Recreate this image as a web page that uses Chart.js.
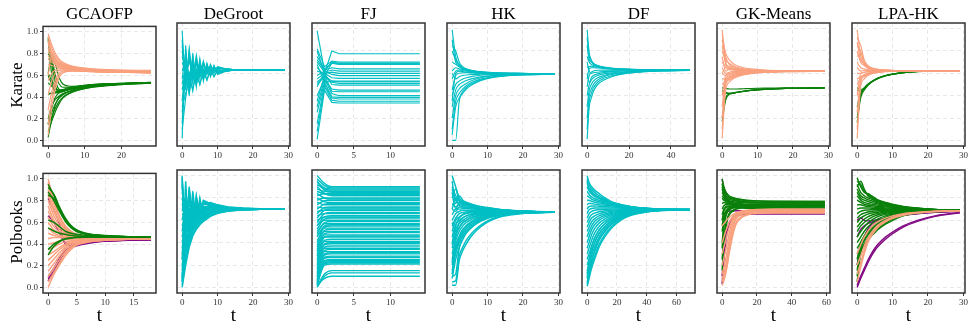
<!DOCTYPE html>
<html>
<head>
<meta charset="utf-8">
<script src="https://cdn.jsdelivr.net/npm/chart.js@4.4.0/dist/chart.umd.min.js"></script>
<style>
  body { margin: 0; background: #fff; }
  #fig { position: relative; width: 968px; height: 329px; overflow: hidden;
         font-family: 'Liberation Serif', 'Times New Roman', serif; }
  .lab { position: absolute; color: #000; white-space: nowrap; line-height: 1; }
  canvas { position: absolute; }
</style>
</head>
<body>
<div id="fig"></div>
<script>
// ---- labels and ticks ----
const methodNames = ['GCAOFP', 'DeGroot', 'FJ', 'HK', 'DF', 'GK-Means', 'LPA-HK'];
const networkNames = ['Karate', 'Polbooks'];
const yTicks = [0, 0.2, 0.4, 0.6, 0.8, 1.0];

// ---- Karate: opinion trajectories (values at the listed time steps) ----
const tKarGcaofp = [0, 1, 2, 3, 4, 6, 8, 12, 18, 28];
const karGcaofpSalmon = [
  [0.98,0.88,0.80,0.75,0.72,0.69,0.675,0.66,0.65,0.645],
  [0.95,0.85,0.78,0.74,0.71,0.685,0.67,0.655,0.645,0.64],
  [0.92,0.82,0.76,0.72,0.70,0.68,0.665,0.65,0.64,0.635],
  [0.88,0.80,0.74,0.71,0.69,0.675,0.66,0.648,0.64,0.635],
  [0.85,0.78,0.73,0.70,0.685,0.67,0.655,0.645,0.636,0.63],
  [0.82,0.76,0.72,0.70,0.68,0.665,0.652,0.64,0.633,0.628],
  [0.78,0.74,0.71,0.69,0.675,0.66,0.65,0.64,0.632,0.627],
  [0.75,0.72,0.70,0.685,0.67,0.658,0.648,0.638,0.63,0.625],
  [0.70,0.69,0.68,0.67,0.66,0.652,0.645,0.636,0.63,0.625],
  [0.55,0.62,0.65,0.66,0.66,0.65,0.645,0.637,0.63,0.626],
  [0.42,0.55,0.62,0.645,0.65,0.648,0.643,0.636,0.63,0.625],
  [0.28,0.45,0.56,0.62,0.64,0.645,0.642,0.635,0.63,0.624],
  [0.15,0.38,0.52,0.60,0.63,0.64,0.64,0.634,0.628,0.623],
  [0.05,0.30,0.48,0.58,0.62,0.638,0.638,0.633,0.628,0.622],
  [0.90,0.80,0.75,0.72,0.70,0.682,0.668,0.655,0.645,0.64],
  [0.60,0.78,0.70,0.68,0.675,0.665,0.655,0.645,0.637,0.632]
];
const karGcaofpGreen = [
  [0.95,0.70,0.50,0.46,0.47,0.49,0.50,0.515,0.525,0.535],
  [0.93,0.60,0.45,0.45,0.46,0.48,0.495,0.51,0.52,0.532],
  [0.80,0.75,0.60,0.52,0.49,0.49,0.50,0.515,0.525,0.535],
  [0.62,0.55,0.48,0.46,0.465,0.48,0.495,0.51,0.522,0.533],
  [0.60,0.52,0.44,0.44,0.455,0.475,0.49,0.507,0.52,0.532],
  [0.53,0.50,0.47,0.46,0.465,0.48,0.495,0.51,0.522,0.533],
  [0.44,0.43,0.44,0.45,0.46,0.475,0.49,0.507,0.52,0.532],
  [0.42,0.44,0.44,0.445,0.455,0.47,0.487,0.505,0.518,0.531],
  [0.20,0.32,0.38,0.41,0.43,0.455,0.475,0.497,0.515,0.53],
  [0.16,0.26,0.34,0.39,0.42,0.45,0.47,0.495,0.513,0.53],
  [0.15,0.22,0.30,0.36,0.40,0.44,0.465,0.492,0.512,0.529],
  [0.08,0.18,0.27,0.34,0.39,0.435,0.46,0.49,0.51,0.528],
  [0.03,0.20,0.33,0.40,0.43,0.455,0.475,0.498,0.515,0.53],
  [0.15,0.30,0.40,0.44,0.45,0.47,0.485,0.503,0.518,0.531],
  [0.62,0.78,0.70,0.58,0.52,0.50,0.50,0.513,0.524,0.534],
  [0.75,0.72,0.55,0.47,0.46,0.475,0.49,0.507,0.52,0.532]
];

const tKarDeGroot = [0, 1, 2, 3, 4, 5, 6, 7, 8, 9, 10, 12, 14, 17, 20, 29];
const karDeGroot = [
  [0.98,0.45,0.80,0.52,0.74,0.56,0.70,0.59,0.67,0.60,0.655,0.64,0.635,0.632,0.631,0.63],
  [0.02,0.85,0.40,0.78,0.48,0.73,0.53,0.69,0.57,0.67,0.59,0.615,0.625,0.628,0.63,0.63],
  [0.15,0.80,0.45,0.75,0.50,0.71,0.55,0.68,0.58,0.665,0.60,0.62,0.627,0.629,0.63,0.63],
  [0.85,0.50,0.77,0.55,0.72,0.58,0.69,0.60,0.665,0.61,0.65,0.64,0.634,0.632,0.631,0.63],
  [0.80,0.55,0.75,0.57,0.70,0.59,0.68,0.605,0.66,0.612,0.648,0.638,0.634,0.631,0.63,0.63],
  [0.70,0.60,0.70,0.60,0.68,0.60,0.67,0.61,0.655,0.615,0.645,0.637,0.633,0.631,0.63,0.63],
  [0.62,0.72,0.58,0.70,0.60,0.68,0.61,0.665,0.615,0.655,0.62,0.625,0.628,0.63,0.63,0.63],
  [0.55,0.78,0.52,0.73,0.56,0.70,0.58,0.68,0.60,0.66,0.61,0.622,0.627,0.629,0.63,0.63],
  [0.45,0.62,0.50,0.66,0.55,0.66,0.58,0.655,0.60,0.65,0.61,0.623,0.628,0.63,0.63,0.63],
  [0.35,0.70,0.48,0.68,0.53,0.67,0.57,0.66,0.595,0.655,0.605,0.62,0.627,0.629,0.63,0.63],
  [0.25,0.58,0.42,0.62,0.50,0.63,0.55,0.64,0.58,0.64,0.60,0.618,0.626,0.629,0.63,0.63],
  [0.90,0.48,0.82,0.53,0.76,0.57,0.71,0.595,0.68,0.605,0.66,0.642,0.635,0.632,0.631,0.63],
  [0.75,0.65,0.72,0.62,0.70,0.62,0.68,0.62,0.665,0.62,0.65,0.638,0.633,0.631,0.63,0.63],
  [0.50,0.68,0.55,0.68,0.57,0.67,0.59,0.66,0.60,0.655,0.61,0.622,0.627,0.63,0.63,0.63],
  [0.30,0.42,0.55,0.46,0.60,0.50,0.62,0.54,0.63,0.57,0.625,0.624,0.627,0.629,0.63,0.63],
  [0.10,0.38,0.60,0.44,0.64,0.50,0.64,0.54,0.64,0.57,0.635,0.625,0.628,0.63,0.63,0.63]
];

const tKarFJ = [0, 1, 2, 3, 14];
const karFJ = [
  [0.98,0.62,0.70,0.69,0.69],
  [0.80,0.60,0.80,0.775,0.775],
  [0.82,0.66,0.71,0.70,0.70],
  [0.75,0.64,0.69,0.68,0.68],
  [0.72,0.63,0.65,0.64,0.64],
  [0.70,0.61,0.63,0.62,0.62],
  [0.62,0.60,0.61,0.60,0.60],
  [0.58,0.62,0.59,0.58,0.58],
  [0.55,0.60,0.56,0.555,0.555],
  [0.52,0.58,0.53,0.525,0.525],
  [0.50,0.57,0.52,0.51,0.51],
  [0.48,0.60,0.50,0.495,0.495],
  [0.40,0.55,0.46,0.45,0.45],
  [0.35,0.58,0.44,0.435,0.435],
  [0.25,0.52,0.39,0.385,0.385],
  [0.15,0.50,0.38,0.37,0.37],
  [0.08,0.48,0.36,0.35,0.35],
  [0.01,0.45,0.34,0.335,0.335],
  [0.30,0.55,0.42,0.40,0.40],
  [0.68,0.52,0.53,0.53,0.53],
  [0.65,0.58,0.69,0.685,0.685]
];

const tKarHK = [0, 1, 2, 3, 4, 6, 8, 12, 18, 29];
const karHK = [
  [0.99,0.75,0.68,0.65,0.635,0.62,0.61,0.603,0.60,0.595],
  [0.85,0.80,0.70,0.66,0.64,0.625,0.615,0.605,0.60,0.595],
  [0.80,0.72,0.67,0.645,0.635,0.62,0.612,0.604,0.60,0.595],
  [0.70,0.68,0.66,0.64,0.63,0.618,0.61,0.603,0.598,0.595],
  [0.62,0.65,0.64,0.635,0.627,0.615,0.608,0.602,0.598,0.595],
  [0.55,0.62,0.63,0.625,0.62,0.612,0.606,0.60,0.597,0.595],
  [0.45,0.58,0.60,0.605,0.605,0.603,0.60,0.598,0.596,0.595],
  [0.40,0.50,0.53,0.55,0.56,0.575,0.583,0.59,0.593,0.595],
  [0.30,0.45,0.50,0.52,0.535,0.555,0.568,0.582,0.59,0.594],
  [0.20,0.40,0.46,0.49,0.51,0.54,0.56,0.578,0.588,0.594],
  [0.10,0.35,0.42,0.46,0.49,0.525,0.548,0.572,0.586,0.593],
  [0.00,0.00,0.35,0.42,0.46,0.505,0.535,0.566,0.584,0.593],
  [0.05,0.30,0.38,0.44,0.475,0.515,0.54,0.569,0.585,0.593],
  [0.90,0.70,0.66,0.64,0.63,0.617,0.61,0.603,0.599,0.595],
  [0.60,0.55,0.57,0.58,0.585,0.59,0.593,0.595,0.595,0.595],
  [0.35,0.60,0.62,0.615,0.61,0.605,0.60,0.598,0.596,0.595]
];

const tKarDF = [0, 1, 2, 3, 5, 8, 12, 18, 25, 35, 49];
const karDF = [
  [0.99,0.78,0.72,0.69,0.67,0.655,0.645,0.638,0.633,0.63,0.628],
  [0.85,0.72,0.70,0.68,0.665,0.652,0.643,0.636,0.632,0.63,0.628],
  [0.75,0.70,0.68,0.67,0.66,0.65,0.642,0.636,0.632,0.63,0.628],
  [0.65,0.66,0.665,0.66,0.655,0.647,0.64,0.635,0.631,0.629,0.628],
  [0.55,0.64,0.65,0.65,0.648,0.643,0.638,0.634,0.631,0.629,0.628],
  [0.48,0.58,0.61,0.62,0.627,0.628,0.628,0.628,0.628,0.628,0.628],
  [0.40,0.50,0.54,0.56,0.58,0.595,0.605,0.614,0.62,0.625,0.627],
  [0.30,0.45,0.50,0.53,0.56,0.58,0.597,0.61,0.618,0.624,0.627],
  [0.20,0.40,0.46,0.50,0.54,0.57,0.59,0.606,0.616,0.623,0.627],
  [0.10,0.35,0.42,0.47,0.52,0.555,0.58,0.60,0.613,0.622,0.626],
  [0.01,0.30,0.38,0.44,0.50,0.54,0.572,0.597,0.611,0.621,0.626],
  [0.92,0.75,0.71,0.685,0.668,0.654,0.644,0.637,0.633,0.63,0.628],
  [0.60,0.52,0.56,0.58,0.595,0.607,0.615,0.621,0.625,0.627,0.628],
  [0.70,0.62,0.60,0.605,0.61,0.615,0.619,0.623,0.626,0.627,0.628]
];

const tKarGK = [0, 1, 2, 3, 4, 6, 8, 12, 18, 29];
const karGKSalmon = [
  [0.99,0.70,0.66,0.65,0.64,0.632,0.628,0.624,0.622,0.62],
  [0.90,0.75,0.68,0.66,0.648,0.636,0.63,0.625,0.622,0.62],
  [0.85,0.68,0.65,0.64,0.635,0.63,0.626,0.623,0.621,0.62],
  [0.80,0.72,0.69,0.67,0.655,0.64,0.632,0.626,0.622,0.62],
  [0.75,0.62,0.64,0.635,0.632,0.628,0.625,0.622,0.621,0.62],
  [0.70,0.66,0.63,0.63,0.628,0.626,0.624,0.622,0.621,0.62],
  [0.65,0.60,0.61,0.615,0.617,0.618,0.619,0.62,0.62,0.62],
  [0.60,0.58,0.59,0.60,0.605,0.61,0.613,0.616,0.618,0.62],
  [0.55,0.55,0.57,0.58,0.59,0.60,0.606,0.612,0.616,0.619],
  [0.50,0.53,0.55,0.565,0.575,0.59,0.60,0.61,0.615,0.619],
  [0.40,0.58,0.60,0.605,0.608,0.612,0.615,0.618,0.619,0.62],
  [0.30,0.55,0.58,0.59,0.597,0.605,0.61,0.615,0.618,0.62],
  [0.20,0.52,0.56,0.575,0.585,0.597,0.605,0.613,0.617,0.619],
  [0.02,0.45,0.52,0.55,0.565,0.585,0.597,0.608,0.615,0.619],
  [0.95,0.78,0.72,0.69,0.67,0.65,0.64,0.63,0.624,0.621],
  [0.60,0.65,0.64,0.635,0.63,0.626,0.624,0.622,0.621,0.62],
  [0.10,0.50,0.54,0.56,0.575,0.59,0.60,0.61,0.616,0.619]
];
const karGKGreen = [
  [0.47,0.465,0.46,0.46,0.46,0.462,0.464,0.467,0.47,0.47],
  [0.44,0.425,0.42,0.425,0.43,0.44,0.448,0.458,0.466,0.469],
  [0.17,0.36,0.41,0.42,0.428,0.438,0.446,0.457,0.465,0.469],
  [0.20,0.38,0.415,0.423,0.43,0.44,0.447,0.457,0.465,0.469],
  [0.45,0.43,0.42,0.42,0.428,0.438,0.447,0.458,0.466,0.47]
];

const tKarLpaSalmon = [0, 1, 2, 3, 4, 6, 8, 12, 18, 29];
const tKarLpaGreen = [0, 1, 2, 3, 4, 6, 8, 12, 16, 20];
const karLpaSalmon = [
  [0.99,0.75,0.68,0.65,0.64,0.63,0.625,0.622,0.622,0.622],
  [0.92,0.85,0.72,0.67,0.65,0.635,0.628,0.623,0.622,0.622],
  [0.85,0.80,0.70,0.66,0.645,0.632,0.627,0.623,0.622,0.622],
  [0.80,0.70,0.67,0.65,0.64,0.63,0.626,0.623,0.622,0.622],
  [0.75,0.78,0.68,0.655,0.64,0.63,0.626,0.623,0.622,0.622],
  [0.70,0.65,0.64,0.635,0.63,0.627,0.625,0.623,0.622,0.622],
  [0.65,0.62,0.625,0.626,0.625,0.624,0.623,0.622,0.622,0.622],
  [0.60,0.60,0.61,0.615,0.617,0.619,0.62,0.621,0.622,0.622],
  [0.55,0.57,0.59,0.60,0.607,0.613,0.617,0.62,0.622,0.622],
  [0.50,0.56,0.58,0.595,0.603,0.611,0.616,0.62,0.622,0.622],
  [0.40,0.60,0.61,0.612,0.615,0.618,0.62,0.621,0.622,0.622],
  [0.25,0.55,0.58,0.595,0.603,0.611,0.616,0.62,0.622,0.622],
  [0.02,0.48,0.55,0.58,0.595,0.608,0.615,0.62,0.622,0.622],
  [0.10,0.52,0.57,0.59,0.60,0.61,0.616,0.62,0.622,0.622],
  [0.88,0.72,0.69,0.66,0.648,0.634,0.628,0.623,0.622,0.622]
];
const karLpaGreen = [
  [0.16,0.38,0.45,0.49,0.52,0.555,0.578,0.602,0.614,0.62],
  [0.20,0.40,0.46,0.50,0.525,0.56,0.58,0.604,0.615,0.62],
  [0.47,0.455,0.47,0.50,0.525,0.558,0.58,0.603,0.614,0.62],
  [0.45,0.44,0.465,0.495,0.52,0.555,0.577,0.601,0.613,0.62],
  [0.30,0.42,0.47,0.50,0.523,0.557,0.579,0.602,0.614,0.62]
];

// ---- Polbooks: opinion trajectories ----
const tPolGcaofp = [0, 1, 2, 3, 4, 5, 7, 10, 14, 18];
const polGcaofpGreen = [
  [0.95,0.85,0.72,0.62,0.56,0.52,0.49,0.475,0.467,0.464],
  [0.92,0.86,0.74,0.64,0.57,0.53,0.495,0.478,0.468,0.465],
  [0.88,0.80,0.70,0.61,0.55,0.515,0.488,0.474,0.467,0.464],
  [0.85,0.82,0.72,0.63,0.565,0.525,0.492,0.476,0.468,0.464],
  [0.62,0.60,0.56,0.52,0.50,0.49,0.478,0.47,0.466,0.464],
  [0.35,0.40,0.43,0.45,0.458,0.462,0.464,0.465,0.465,0.464],
  [0.30,0.38,0.42,0.445,0.455,0.46,0.463,0.464,0.464,0.464],
  [0.55,0.52,0.50,0.49,0.48,0.475,0.47,0.467,0.465,0.464]
];
const polGcaofpSalmon = [
  [1.00,0.80,0.66,0.57,0.52,0.49,0.47,0.46,0.455,0.453],
  [0.97,0.78,0.65,0.565,0.515,0.487,0.469,0.459,0.455,0.453],
  [0.95,0.77,0.64,0.56,0.51,0.485,0.468,0.459,0.455,0.453],
  [0.90,0.72,0.61,0.54,0.50,0.48,0.466,0.458,0.454,0.453],
  [0.87,0.71,0.605,0.54,0.50,0.479,0.465,0.457,0.454,0.452],
  [0.85,0.70,0.60,0.535,0.50,0.478,0.465,0.457,0.454,0.452],
  [0.80,0.66,0.57,0.52,0.49,0.474,0.463,0.456,0.453,0.452],
  [0.75,0.62,0.55,0.51,0.485,0.47,0.461,0.455,0.453,0.452],
  [0.70,0.60,0.53,0.50,0.48,0.467,0.46,0.455,0.452,0.451],
  [0.65,0.56,0.51,0.49,0.475,0.465,0.458,0.454,0.452,0.451],
  [0.60,0.53,0.50,0.48,0.47,0.462,0.457,0.453,0.452,0.451],
  [0.55,0.50,0.48,0.47,0.465,0.46,0.456,0.453,0.451,0.451],
  [0.50,0.48,0.47,0.465,0.46,0.457,0.454,0.452,0.451,0.45],
  [0.45,0.46,0.46,0.458,0.456,0.455,0.453,0.452,0.451,0.45],
  [0.40,0.41,0.43,0.44,0.445,0.448,0.45,0.45,0.45,0.45],
  [0.35,0.37,0.40,0.42,0.43,0.438,0.444,0.447,0.449,0.45],
  [0.30,0.33,0.37,0.40,0.42,0.432,0.44,0.446,0.448,0.449],
  [0.25,0.30,0.35,0.385,0.41,0.425,0.436,0.444,0.447,0.449],
  [0.20,0.26,0.32,0.37,0.40,0.418,0.432,0.442,0.446,0.449],
  [0.15,0.22,0.29,0.35,0.385,0.41,0.428,0.44,0.445,0.448],
  [0.10,0.18,0.26,0.33,0.37,0.40,0.424,0.438,0.445,0.448],
  [0.05,0.14,0.23,0.31,0.36,0.395,0.42,0.436,0.444,0.448],
  [0.00,0.12,0.21,0.29,0.35,0.39,0.418,0.435,0.443,0.447]
];
const polGcaofpPurple = [
  [0.82,0.72,0.58,0.40,0.39,0.40,0.42,0.433,0.439,0.442],
  [0.66,0.60,0.50,0.41,0.40,0.405,0.42,0.432,0.438,0.441],
  [0.08,0.15,0.25,0.34,0.37,0.39,0.41,0.428,0.436,0.44],
  [0.10,0.18,0.27,0.35,0.38,0.395,0.413,0.43,0.437,0.44],
  [0.06,0.14,0.24,0.33,0.365,0.385,0.408,0.427,0.435,0.44]
];

const tPolLong = [0, 1, 2, 3, 4, 5, 6, 8, 10, 13, 17, 22, 29];
const polDeGroot = [
  [1.00,0.35,0.90,0.55,0.82,0.62,0.78,0.75,0.74,0.72,0.71,0.703,0.70],
  [0.25,0.95,0.45,0.86,0.58,0.80,0.64,0.76,0.735,0.718,0.708,0.702,0.70],
  [0.05,0.80,0.50,0.82,0.60,0.78,0.66,0.75,0.73,0.715,0.706,0.702,0.70],
  [0.90,0.55,0.86,0.62,0.79,0.66,0.77,0.745,0.728,0.714,0.706,0.702,0.70],
  [0.80,0.60,0.80,0.65,0.77,0.68,0.76,0.738,0.725,0.712,0.705,0.701,0.70],
  [0.70,0.76,0.68,0.77,0.70,0.76,0.71,0.735,0.72,0.71,0.704,0.701,0.70],
  [0.60,0.78,0.62,0.77,0.66,0.75,0.69,0.73,0.718,0.709,0.704,0.701,0.70],
  [0.50,0.72,0.58,0.75,0.64,0.74,0.68,0.725,0.715,0.707,0.703,0.701,0.70],
  [0.95,0.50,0.83,0.60,0.78,0.65,0.755,0.74,0.726,0.713,0.705,0.701,0.70],
  [0.85,0.70,0.78,0.71,0.76,0.71,0.745,0.732,0.722,0.711,0.705,0.701,0.70],
  [0.65,0.68,0.70,0.71,0.72,0.715,0.718,0.714,0.71,0.706,0.703,0.701,0.70],
  [0.55,0.65,0.67,0.69,0.70,0.705,0.708,0.706,0.705,0.703,0.702,0.70,0.70],
  [0.45,0.62,0.64,0.67,0.68,0.69,0.695,0.698,0.699,0.70,0.70,0.70,0.70],
  [0.40,0.58,0.62,0.65,0.67,0.68,0.688,0.694,0.697,0.699,0.70,0.70,0.70],
  [0.75,0.62,0.74,0.66,0.73,0.68,0.725,0.718,0.712,0.706,0.703,0.701,0.70],
  [0.35,0.55,0.60,0.63,0.655,0.67,0.68,0.69,0.695,0.698,0.699,0.70,0.70],
  [0.30,0.48,0.55,0.60,0.63,0.65,0.665,0.68,0.69,0.695,0.698,0.70,0.70],
  [0.20,0.40,0.50,0.56,0.60,0.625,0.645,0.668,0.682,0.692,0.697,0.699,0.70],
  [0.10,0.30,0.42,0.50,0.555,0.59,0.615,0.65,0.672,0.687,0.695,0.698,0.70],
  [0.00,0.20,0.36,0.46,0.52,0.56,0.59,0.635,0.662,0.682,0.693,0.698,0.70],
  [0.02,0.24,0.38,0.47,0.525,0.565,0.597,0.64,0.666,0.684,0.694,0.698,0.70],
  [0.15,0.35,0.46,0.53,0.575,0.605,0.63,0.66,0.677,0.69,0.696,0.699,0.70],
  [0.05,0.60,0.45,0.70,0.55,0.72,0.62,0.71,0.70,0.70,0.70,0.70,0.70],
  [0.98,0.40,0.88,0.52,0.81,0.60,0.77,0.748,0.73,0.715,0.706,0.702,0.70],
  [0.25,0.42,0.52,0.58,0.615,0.64,0.655,0.675,0.687,0.694,0.698,0.70,0.70],
  [0.08,0.32,0.44,0.52,0.565,0.60,0.625,0.656,0.675,0.689,0.696,0.699,0.70],
  [0.12,0.28,0.40,0.48,0.535,0.575,0.605,0.645,0.668,0.685,0.694,0.698,0.70],
  [0.18,0.38,0.48,0.545,0.59,0.62,0.64,0.664,0.68,0.691,0.697,0.699,0.70],
  [0.92,0.45,0.84,0.58,0.79,0.64,0.76,0.742,0.727,0.713,0.705,0.701,0.70],
  [0.68,0.80,0.66,0.78,0.68,0.755,0.70,0.728,0.716,0.708,0.703,0.701,0.70]
];

const tPolFJ = [0, 1, 2, 14];
const polFJ = [
  [1.00,0.93,0.90,0.90],[0.97,0.91,0.89,0.89],[0.94,0.89,0.88,0.88],[0.92,0.88,0.87,0.87],
  [0.88,0.86,0.86,0.86],[0.95,0.87,0.85,0.85],[0.82,0.84,0.84,0.84],[0.86,0.835,0.83,0.83],
  [0.90,0.84,0.82,0.82],[0.78,0.80,0.80,0.80],[0.84,0.80,0.79,0.79],[0.74,0.775,0.78,0.78],
  [0.80,0.765,0.76,0.76],[0.70,0.745,0.75,0.75],[0.76,0.74,0.74,0.74],[0.66,0.715,0.72,0.72],
  [0.72,0.71,0.71,0.71],[0.62,0.69,0.70,0.70],[0.68,0.69,0.69,0.69],[0.58,0.66,0.67,0.67],
  [0.64,0.66,0.66,0.66],[0.55,0.63,0.64,0.64],[0.60,0.63,0.63,0.63],[0.52,0.61,0.62,0.62],
  [0.56,0.60,0.60,0.60],[0.48,0.58,0.59,0.59],[0.50,0.57,0.57,0.57],[0.45,0.55,0.56,0.56],
  [0.40,0.54,0.55,0.55],[0.46,0.53,0.53,0.53],[0.36,0.51,0.52,0.52],[0.42,0.50,0.50,0.50],
  [0.32,0.48,0.49,0.49],[0.38,0.47,0.47,0.47],[0.28,0.45,0.46,0.46],[0.34,0.45,0.45,0.45],
  [0.24,0.42,0.43,0.43],[0.30,0.41,0.41,0.41],[0.20,0.39,0.40,0.40],[0.26,0.38,0.39,0.39],
  [0.16,0.36,0.37,0.37],[0.22,0.35,0.35,0.35],[0.12,0.33,0.34,0.34],[0.18,0.32,0.32,0.32],
  [0.09,0.30,0.31,0.31],[0.14,0.29,0.30,0.30],[0.06,0.27,0.28,0.28],[0.10,0.26,0.27,0.27],
  [0.04,0.24,0.25,0.25],[0.07,0.23,0.24,0.24],[0.02,0.22,0.23,0.23],[0.05,0.21,0.22,0.22],
  [0.03,0.20,0.21,0.21],[0.01,0.12,0.15,0.15],[0.00,0.10,0.13,0.13],[0.02,0.08,0.10,0.10]
];

const polHK = [
  [1.00,0.90,0.80,0.77,0.76,0.75,0.74,0.725,0.715,0.70,0.688,0.68,0.676],
  [0.95,0.75,0.82,0.78,0.76,0.745,0.735,0.72,0.71,0.698,0.687,0.68,0.676],
  [0.90,0.82,0.78,0.76,0.75,0.74,0.73,0.717,0.708,0.697,0.686,0.679,0.676],
  [0.85,0.70,0.76,0.75,0.74,0.735,0.727,0.715,0.706,0.695,0.685,0.679,0.676],
  [0.80,0.88,0.77,0.755,0.745,0.738,0.73,0.716,0.707,0.696,0.686,0.679,0.676],
  [0.75,0.72,0.74,0.735,0.73,0.725,0.72,0.71,0.702,0.693,0.684,0.678,0.675],
  [0.70,0.68,0.72,0.72,0.718,0.715,0.712,0.705,0.698,0.69,0.683,0.678,0.675],
  [0.65,0.70,0.70,0.705,0.705,0.703,0.70,0.696,0.692,0.687,0.681,0.677,0.675],
  [0.60,0.66,0.68,0.69,0.69,0.69,0.69,0.688,0.686,0.683,0.679,0.677,0.675],
  [0.55,0.62,0.66,0.67,0.675,0.678,0.68,0.68,0.68,0.679,0.677,0.676,0.675],
  [0.50,0.60,0.63,0.65,0.66,0.665,0.668,0.671,0.673,0.674,0.675,0.675,0.675],
  [0.45,0.56,0.60,0.625,0.64,0.65,0.656,0.663,0.667,0.671,0.673,0.674,0.675],
  [0.40,0.52,0.57,0.60,0.62,0.635,0.645,0.656,0.663,0.668,0.672,0.674,0.675],
  [0.35,0.48,0.54,0.58,0.60,0.62,0.632,0.648,0.657,0.665,0.67,0.673,0.675],
  [0.30,0.42,0.50,0.55,0.58,0.60,0.615,0.637,0.65,0.661,0.668,0.672,0.674],
  [0.25,0.38,0.46,0.52,0.555,0.58,0.60,0.627,0.643,0.657,0.666,0.671,0.674],
  [0.20,0.33,0.42,0.48,0.525,0.555,0.578,0.612,0.633,0.651,0.663,0.67,0.674],
  [0.15,0.30,0.40,0.46,0.505,0.54,0.565,0.603,0.627,0.648,0.661,0.669,0.674],
  [0.10,0.12,0.35,0.43,0.485,0.52,0.55,0.59,0.618,0.643,0.659,0.668,0.673],
  [0.05,0.06,0.28,0.36,0.42,0.465,0.50,0.555,0.595,0.632,0.654,0.666,0.673],
  [0.02,0.02,0.24,0.33,0.39,0.44,0.48,0.54,0.585,0.625,0.65,0.665,0.672],
  [0.08,0.25,0.36,0.44,0.49,0.525,0.553,0.595,0.622,0.645,0.66,0.669,0.674],
  [0.12,0.35,0.44,0.50,0.54,0.57,0.59,0.622,0.64,0.656,0.666,0.671,0.674],
  [0.38,0.55,0.62,0.65,0.665,0.672,0.676,0.677,0.677,0.676,0.676,0.675,0.675],
  [0.88,0.78,0.75,0.74,0.735,0.73,0.724,0.713,0.704,0.694,0.685,0.679,0.676],
  [0.70,0.80,0.73,0.72,0.715,0.712,0.708,0.70,0.695,0.689,0.682,0.678,0.675],
  [0.22,0.45,0.53,0.575,0.60,0.617,0.63,0.646,0.656,0.664,0.67,0.673,0.675],
  [0.58,0.50,0.58,0.62,0.64,0.65,0.657,0.664,0.668,0.671,0.673,0.674,0.675]
];

const tPolDF = [0, 1, 2, 3, 5, 8, 12, 16, 20, 25, 30, 40, 50, 69];
const polDF = [
  [1.00,0.95,0.92,0.90,0.87,0.84,0.80,0.77,0.75,0.735,0.722,0.708,0.70,0.696],
  [0.97,0.93,0.90,0.88,0.85,0.82,0.79,0.765,0.748,0.732,0.72,0.707,0.70,0.696],
  [0.93,0.90,0.88,0.86,0.83,0.805,0.78,0.76,0.745,0.73,0.719,0.706,0.70,0.696],
  [0.90,0.87,0.85,0.835,0.815,0.795,0.772,0.755,0.742,0.728,0.718,0.706,0.70,0.696],
  [0.86,0.84,0.82,0.81,0.795,0.78,0.763,0.749,0.738,0.726,0.716,0.705,0.699,0.696],
  [0.82,0.81,0.80,0.79,0.78,0.768,0.755,0.744,0.734,0.723,0.714,0.704,0.699,0.696],
  [0.78,0.78,0.775,0.77,0.762,0.755,0.746,0.738,0.73,0.72,0.713,0.703,0.699,0.696],
  [0.74,0.75,0.75,0.75,0.745,0.74,0.735,0.73,0.724,0.716,0.71,0.702,0.698,0.695],
  [0.70,0.72,0.725,0.728,0.728,0.726,0.723,0.72,0.717,0.712,0.707,0.701,0.698,0.695],
  [0.66,0.69,0.70,0.706,0.71,0.711,0.711,0.71,0.709,0.706,0.703,0.699,0.697,0.695],
  [0.62,0.65,0.67,0.68,0.69,0.695,0.698,0.70,0.70,0.70,0.699,0.697,0.696,0.695],
  [0.58,0.61,0.635,0.65,0.665,0.677,0.685,0.69,0.692,0.694,0.695,0.695,0.695,0.695],
  [0.54,0.57,0.60,0.62,0.64,0.658,0.672,0.68,0.685,0.689,0.691,0.693,0.694,0.695],
  [0.50,0.53,0.56,0.585,0.615,0.64,0.658,0.67,0.678,0.684,0.688,0.692,0.694,0.695],
  [0.45,0.49,0.52,0.55,0.59,0.62,0.645,0.66,0.671,0.68,0.685,0.691,0.693,0.695],
  [0.40,0.44,0.48,0.515,0.56,0.60,0.63,0.65,0.664,0.675,0.682,0.69,0.693,0.695],
  [0.35,0.39,0.43,0.47,0.525,0.575,0.613,0.638,0.656,0.67,0.679,0.689,0.692,0.695],
  [0.30,0.34,0.38,0.42,0.485,0.545,0.593,0.625,0.647,0.665,0.676,0.688,0.692,0.695],
  [0.25,0.29,0.33,0.37,0.44,0.51,0.57,0.61,0.637,0.659,0.672,0.686,0.691,0.694],
  [0.20,0.24,0.28,0.32,0.40,0.48,0.545,0.593,0.625,0.651,0.667,0.684,0.69,0.694],
  [0.15,0.19,0.23,0.28,0.36,0.45,0.525,0.578,0.614,0.644,0.663,0.682,0.69,0.694],
  [0.10,0.14,0.19,0.24,0.32,0.42,0.50,0.56,0.60,0.636,0.658,0.68,0.689,0.694],
  [0.05,0.10,0.15,0.20,0.28,0.385,0.475,0.54,0.586,0.627,0.652,0.677,0.688,0.694],
  [0.01,0.06,0.12,0.17,0.25,0.36,0.455,0.525,0.575,0.62,0.647,0.675,0.687,0.693],
  [0.03,0.09,0.16,0.23,0.33,0.43,0.51,0.565,0.604,0.638,0.659,0.68,0.689,0.694],
  [0.08,0.16,0.24,0.31,0.40,0.48,0.545,0.592,0.625,0.652,0.668,0.684,0.69,0.694],
  [0.12,0.22,0.30,0.36,0.44,0.515,0.57,0.61,0.637,0.66,0.672,0.686,0.691,0.694],
  [0.95,0.88,0.86,0.845,0.825,0.80,0.775,0.757,0.743,0.729,0.718,0.706,0.70,0.696]
];

const tPolGK = [0, 1, 2, 3, 4, 6, 8, 12, 16, 20, 30, 59];
const polGKSalmon = [
  [0.05,0.10,0.15,0.22,0.32,0.48,0.58,0.64,0.66,0.665,0.668,0.668],
  [0.08,0.13,0.19,0.27,0.37,0.52,0.61,0.655,0.67,0.674,0.676,0.676],
  [0.12,0.18,0.25,0.33,0.42,0.56,0.63,0.665,0.677,0.682,0.685,0.685],
  [0.20,0.26,0.33,0.40,0.48,0.59,0.645,0.675,0.685,0.69,0.692,0.692],
  [0.30,0.36,0.42,0.48,0.53,0.615,0.655,0.68,0.69,0.695,0.70,0.70],
  [0.40,0.45,0.50,0.54,0.58,0.635,0.665,0.685,0.692,0.697,0.70,0.70],
  [0.55,0.57,0.59,0.61,0.625,0.65,0.667,0.68,0.685,0.688,0.69,0.69],
  [0.02,0.06,0.12,0.20,0.30,0.46,0.565,0.633,0.655,0.662,0.665,0.665]
];
const polGKGreen = [
  [0.97,0.90,0.86,0.83,0.81,0.80,0.79,0.78,0.775,0.772,0.769,0.768],
  [0.93,0.88,0.84,0.82,0.80,0.79,0.78,0.77,0.765,0.76,0.756,0.755],
  [0.90,0.85,0.82,0.80,0.79,0.78,0.772,0.765,0.76,0.757,0.755,0.754],
  [0.88,0.83,0.80,0.785,0.775,0.768,0.762,0.757,0.755,0.754,0.754,0.754],
  [0.85,0.82,0.79,0.775,0.765,0.755,0.75,0.745,0.742,0.741,0.74,0.74],
  [0.80,0.78,0.77,0.76,0.752,0.745,0.74,0.735,0.73,0.728,0.725,0.724],
  [0.75,0.76,0.755,0.75,0.745,0.74,0.735,0.728,0.725,0.724,0.724,0.724],
  [0.70,0.73,0.74,0.74,0.738,0.734,0.73,0.725,0.72,0.716,0.712,0.71],
  [0.65,0.70,0.72,0.725,0.725,0.722,0.718,0.712,0.708,0.705,0.702,0.70],
  [0.60,0.68,0.71,0.72,0.72,0.718,0.714,0.71,0.706,0.703,0.70,0.70],
  [0.55,0.64,0.68,0.70,0.71,0.715,0.716,0.717,0.718,0.718,0.718,0.718],
  [0.50,0.60,0.66,0.69,0.705,0.72,0.728,0.735,0.738,0.74,0.74,0.74],
  [0.40,0.55,0.63,0.67,0.69,0.71,0.72,0.73,0.735,0.738,0.74,0.74],
  [0.25,0.45,0.56,0.62,0.66,0.69,0.705,0.72,0.728,0.732,0.735,0.735],
  [0.15,0.40,0.52,0.60,0.645,0.68,0.70,0.715,0.722,0.726,0.73,0.73],
  [0.92,0.87,0.85,0.835,0.82,0.805,0.795,0.785,0.778,0.774,0.77,0.768],
  [0.35,0.55,0.64,0.68,0.70,0.712,0.716,0.72,0.722,0.723,0.724,0.724],
  [0.82,0.80,0.78,0.768,0.76,0.75,0.745,0.742,0.741,0.74,0.74,0.74]
];
const polGKPurple = [
  [0.97,0.88,0.82,0.79,0.77,0.755,0.747,0.742,0.739,0.737,0.736,0.736],
  [0.60,0.65,0.67,0.678,0.682,0.684,0.685,0.685,0.685,0.685,0.685,0.685],
  [0.10,0.30,0.45,0.53,0.58,0.625,0.645,0.655,0.657,0.658,0.658,0.658],
  [0.03,0.25,0.40,0.50,0.56,0.615,0.64,0.652,0.656,0.658,0.658,0.658]
];

const polLpaSalmon = [
  [0.12,0.22,0.33,0.42,0.48,0.52,0.55,0.59,0.62,0.648,0.667,0.679,0.685],
  [0.20,0.28,0.37,0.44,0.49,0.53,0.56,0.60,0.627,0.652,0.669,0.68,0.685],
  [0.05,0.18,0.30,0.40,0.46,0.505,0.54,0.585,0.617,0.646,0.666,0.679,0.685],
  [0.30,0.38,0.45,0.50,0.54,0.57,0.59,0.62,0.64,0.66,0.672,0.681,0.686]
];
const polLpaGreen = [
  [0.98,0.90,0.85,0.84,0.82,0.80,0.78,0.76,0.745,0.725,0.71,0.697,0.69],
  [0.95,0.92,0.86,0.83,0.81,0.79,0.775,0.755,0.74,0.722,0.708,0.696,0.69],
  [0.92,0.85,0.82,0.80,0.79,0.775,0.765,0.75,0.737,0.72,0.707,0.696,0.69],
  [0.88,0.82,0.80,0.785,0.775,0.765,0.755,0.743,0.732,0.717,0.705,0.695,0.689],
  [0.85,0.80,0.78,0.77,0.76,0.752,0.745,0.735,0.727,0.714,0.703,0.694,0.689],
  [0.82,0.78,0.76,0.75,0.745,0.74,0.735,0.728,0.721,0.711,0.701,0.693,0.689],
  [0.78,0.76,0.745,0.737,0.732,0.728,0.724,0.72,0.715,0.707,0.699,0.692,0.688],
  [0.74,0.74,0.73,0.725,0.72,0.717,0.714,0.711,0.708,0.703,0.697,0.691,0.688],
  [0.70,0.71,0.71,0.71,0.708,0.706,0.704,0.702,0.70,0.698,0.694,0.69,0.688],
  [0.66,0.68,0.69,0.693,0.695,0.696,0.696,0.695,0.694,0.693,0.691,0.689,0.687],
  [0.62,0.65,0.665,0.675,0.68,0.683,0.685,0.687,0.688,0.688,0.688,0.688,0.687],
  [0.58,0.62,0.64,0.655,0.665,0.67,0.675,0.68,0.682,0.684,0.686,0.687,0.687],
  [0.54,0.58,0.61,0.63,0.645,0.655,0.663,0.672,0.677,0.681,0.684,0.686,0.687],
  [0.50,0.55,0.58,0.605,0.625,0.64,0.65,0.663,0.671,0.678,0.683,0.686,0.687],
  [0.45,0.50,0.54,0.575,0.60,0.62,0.635,0.653,0.664,0.674,0.681,0.685,0.687],
  [0.40,0.45,0.50,0.54,0.57,0.595,0.615,0.64,0.655,0.669,0.679,0.684,0.686],
  [0.35,0.40,0.46,0.505,0.54,0.57,0.595,0.627,0.646,0.664,0.676,0.683,0.686],
  [0.30,0.36,0.42,0.47,0.51,0.545,0.575,0.613,0.637,0.659,0.674,0.682,0.686],
  [0.20,0.33,0.39,0.44,0.48,0.515,0.545,0.59,0.62,0.65,0.669,0.68,0.685],
  [0.10,0.32,0.38,0.43,0.47,0.50,0.53,0.575,0.61,0.644,0.666,0.679,0.685],
  [0.05,0.30,0.37,0.42,0.46,0.49,0.52,0.565,0.60,0.64,0.664,0.678,0.685],
  [0.15,0.36,0.42,0.465,0.50,0.53,0.555,0.595,0.624,0.653,0.671,0.681,0.686],
  [0.90,0.95,0.88,0.82,0.80,0.785,0.77,0.752,0.738,0.72,0.706,0.695,0.689],
  [0.25,0.40,0.45,0.49,0.52,0.55,0.573,0.61,0.634,0.657,0.672,0.682,0.686]
];
const polLpaPurple = [
  [0.00,0.08,0.15,0.22,0.28,0.33,0.37,0.43,0.48,0.54,0.59,0.635,0.668],
  [0.02,0.10,0.17,0.24,0.30,0.35,0.39,0.45,0.495,0.55,0.60,0.64,0.67],
  [0.20,0.35,0.45,0.52,0.56,0.585,0.60,0.62,0.635,0.65,0.663,0.675,0.682],
  [0.45,0.52,0.55,0.57,0.583,0.593,0.60,0.615,0.628,0.645,0.66,0.673,0.681],
  [0.60,0.62,0.60,0.595,0.598,0.602,0.607,0.617,0.628,0.644,0.659,0.672,0.681]
];

// ---- styling ----
const TEAL = '#00BFC4', SALMON = '#F9A07D', GREEN = '#0A800A', PURPLE = '#820A82';
const FONT = "'Liberation Serif', 'Times New Roman', serif";
const colLeft = [43, 177, 312, 447, 582, 717, 852];
const rowTop = [23, 170];
const lineWidthByRow = [1.15, 1.45];
const PANEL_W = 113, PANEL_H = 123;
const AXIS_W = 40, AXIS_H = 20, PAD_R = 14, PAD_T = 4;

const panels = [
  { row: 0, col: 0, xMax: 28, xTicks: [0, 10, 20], groups: [
    { color: SALMON, t: tKarGcaofp, lines: karGcaofpSalmon },
    { color: GREEN, t: tKarGcaofp, lines: karGcaofpGreen }] },
  { row: 0, col: 1, xMax: 29, xTicks: [0, 10, 20, 30], sharp: true, groups: [
    { color: TEAL, t: tKarDeGroot, lines: karDeGroot }] },
  { row: 0, col: 2, xMax: 14, xTicks: [0, 5, 10], sharp: true, groups: [
    { color: TEAL, t: tKarFJ, lines: karFJ }] },
  { row: 0, col: 3, xMax: 29, xTicks: [0, 10, 20, 30], groups: [
    { color: TEAL, t: tKarHK, lines: karHK }] },
  { row: 0, col: 4, xMax: 49, xTicks: [0, 20, 40], groups: [
    { color: TEAL, t: tKarDF, lines: karDF }] },
  { row: 0, col: 5, xMax: 29, xTicks: [0, 10, 20, 30], groups: [
    { color: SALMON, t: tKarGK, lines: karGKSalmon },
    { color: GREEN, t: tKarGK, lines: karGKGreen }] },
  { row: 0, col: 6, xMax: 29, xTicks: [0, 10, 20, 30], groups: [
    { color: SALMON, t: tKarLpaSalmon, lines: karLpaSalmon },
    { color: GREEN, t: tKarLpaGreen, lines: karLpaGreen }] },

  { row: 1, col: 0, xMax: 18, xTicks: [0, 5, 10, 15], groups: [
    { color: GREEN, t: tPolGcaofp, lines: polGcaofpGreen },
    { color: SALMON, t: tPolGcaofp, lines: polGcaofpSalmon },
    { color: PURPLE, t: tPolGcaofp, lines: polGcaofpPurple }] },
  { row: 1, col: 1, xMax: 29, xTicks: [0, 10, 20, 30], sharp: true, groups: [
    { color: TEAL, t: tPolLong, lines: polDeGroot }] },
  { row: 1, col: 2, xMax: 14, xTicks: [0, 5, 10], groups: [
    { color: TEAL, t: tPolFJ, lines: polFJ }] },
  { row: 1, col: 3, xMax: 29, xTicks: [0, 10, 20, 30], groups: [
    { color: TEAL, t: tPolLong, lines: polHK }] },
  { row: 1, col: 4, xMax: 69, xTicks: [0, 20, 40, 60], groups: [
    { color: TEAL, t: tPolDF, lines: polDF }] },
  { row: 1, col: 5, xMax: 59, xTicks: [0, 20, 40, 60], groups: [
    { color: SALMON, t: tPolGK, lines: polGKSalmon },
    { color: GREEN, t: tPolGK, lines: polGKGreen },
    { color: PURPLE, t: tPolGK, lines: polGKPurple }] },
  { row: 1, col: 6, xMax: 29, xTicks: [0, 10, 20, 30], groups: [
    { color: SALMON, t: tPolLong, lines: polLpaSalmon },
    { color: GREEN, t: tPolLong, lines: polLpaGreen },
    { color: PURPLE, t: tPolLong, lines: polLpaPurple }] }
];

const fig = document.getElementById('fig');

// dark frame round each panel
const framePlugin = {
  id: 'frame',
  afterDraw(chart) {
    const { ctx, chartArea: a } = chart;
    ctx.save();
    ctx.strokeStyle = '#333';
    ctx.lineWidth = 1.5;
    ctx.strokeRect(a.left, a.top, a.right - a.left, a.bottom - a.top);
    ctx.restore();
  }
};

function addLabel(text, css) {
  const d = document.createElement('div');
  d.className = 'lab';
  d.textContent = text;
  Object.assign(d.style, css);
  fig.appendChild(d);
}

function makePanel(p) {
  const W = AXIS_W + PANEL_W + PAD_R, H = PAD_T + PANEL_H + AXIS_H;
  const canvas = document.createElement('canvas');
  canvas.width = W; canvas.height = H;
  canvas.style.width = W + 'px'; canvas.style.height = H + 'px';
  canvas.style.left = (colLeft[p.col] - AXIS_W) + 'px';
  canvas.style.top = (rowTop[p.row] - PAD_T) + 'px';
  fig.appendChild(canvas);

  const datasets = [];
  p.groups.forEach(g => g.lines.forEach(line => {
    datasets.push({
      data: line.map((y, i) => ({ x: g.t[i], y })),
      borderColor: g.color,
      borderWidth: lineWidthByRow[p.row],
      pointRadius: 0,
      fill: false,
      tension: 0,
      cubicInterpolationMode: p.sharp ? 'default' : 'monotone'
    });
  }));

  const showY = p.col === 0;
  const gridOpts = { color: '#e8e8e8', lineWidth: 1, tickLength: 3, tickColor: '#333', tickWidth: 1 };
  const tickFont = { family: FONT, size: 9 };

  new Chart(canvas, {
    type: 'line',
    data: { datasets },
    plugins: [framePlugin],
    options: {
      responsive: false,
      animation: false,
      devicePixelRatio: 1,
      layout: { padding: { left: 0, right: PAD_R, top: PAD_T, bottom: 0 } },
      plugins: { legend: { display: false }, tooltip: { enabled: false } },
      scales: {
        x: {
          type: 'linear',
          min: -0.05 * p.xMax,
          max: 1.05 * p.xMax,
          afterBuildTicks: s => { s.ticks = p.xTicks.map(v => ({ value: v })); },
          afterFit: s => { s.height = AXIS_H; },
          grid: Object.assign({ drawTicks: true }, gridOpts),
          border: { display: false, dash: [4, 3] },
          ticks: { font: tickFont, color: '#333', padding: 1, maxRotation: 0, autoSkip: false,
                   callback: v => String(v) }
        },
        y: {
          type: 'linear',
          min: -0.05,
          max: 1.05,
          afterBuildTicks: s => { s.ticks = yTicks.map(v => ({ value: v })); },
          afterFit: s => { s.width = AXIS_W; },
          grid: Object.assign({ drawTicks: showY }, gridOpts),
          border: { display: false, dash: [4, 3] },
          ticks: { display: showY, font: tickFont, color: '#333', padding: 2,
                   callback: v => v.toFixed(1) }
        }
      }
    }
  });
}

panels.forEach(makePanel);

// column titles, row labels and the shared x label
methodNames.forEach((name, c) => {
  addLabel(name, { left: (colLeft[c] + PANEL_W / 2) + 'px', top: '5px', fontSize: '17px',
                   transform: 'translateX(-50%)' });
  addLabel('t', { left: (colLeft[c] + PANEL_W / 2) + 'px', top: '305px', fontSize: '19px',
                  transform: 'translateX(-50%)' });
});
networkNames.forEach((name, r) => {
  addLabel(name, { left: '15.5px', top: (rowTop[r] + PANEL_H / 2) + 'px', fontSize: '17px',
                   transform: 'translate(-50%, -50%) rotate(-90deg)' });
});
</script>
</body>
</html>
